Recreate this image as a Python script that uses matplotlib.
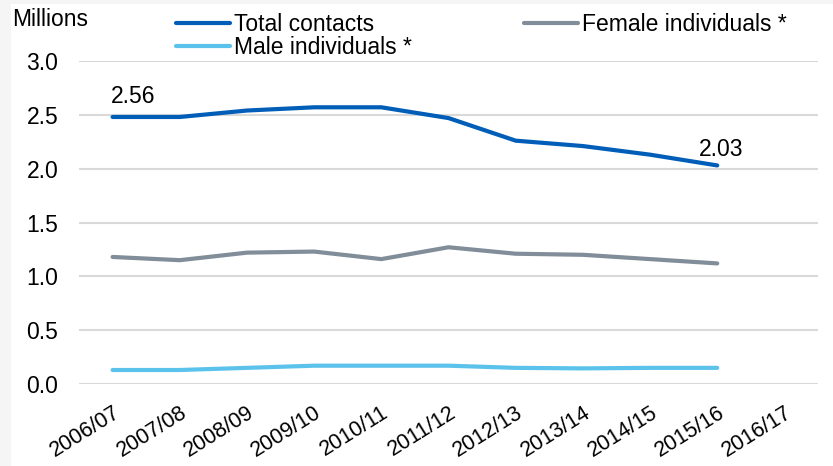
import matplotlib.pyplot as plt
import matplotlib.patches as mpatches

# categories and series (millions)
years = ['2006/07', '2007/08', '2008/09', '2009/10', '2010/11', '2011/12',
         '2012/13', '2013/14', '2014/15', '2015/16', '2016/17']
total_contacts = [2.48, 2.48, 2.54, 2.57, 2.57, 2.47, 2.26, 2.21, 2.13, 2.03]
female_individuals = [1.18, 1.15, 1.22, 1.23, 1.16, 1.27, 1.21, 1.20, 1.16, 1.12]
male_individuals = [0.13, 0.13, 0.15, 0.17, 0.17, 0.17, 0.15, 0.145, 0.15, 0.15]
total_labels = ['2.56', '2.03']
yticks = [0.0, 0.5, 1.0, 1.5, 2.0, 2.5, 3.0]

plt.rcParams['font.family'] = ['Liberation Sans', 'DejaVu Sans']
fs = 16.5

fig = plt.figure(figsize=(8.33, 4.66), dpi=100, facecolor='#f5f5f5')
# white card with a thin grey strip on top and left
fig.patches.append(mpatches.Rectangle((11 / 833, 0), 1, 1 - 4 / 466,
                                      transform=fig.transFigure,
                                      facecolor='white', edgecolor='none',
                                      zorder=-10))

ax = fig.add_axes([79 / 833, 1 - 384 / 466, (818 - 79) / 833, (384 - 61) / 466])
ax.set_facecolor('none')

x = list(range(len(years)))
n = len(total_contacts)
ax.plot(x[:n], total_contacts, color='#005eb8', lw=3, solid_capstyle='round',
        label='Total contacts', zorder=3)
ax.plot(x[:n], male_individuals, color='#5bc2eb', lw=3, solid_capstyle='round',
        label='Male individuals *', zorder=3)
ax.plot(x[:n], female_individuals, color='#818d99', lw=3, solid_capstyle='round',
        label='Female individuals *', zorder=3)

# data labels on first and last point of total contacts
ax.annotate(total_labels[0], (x[0], total_contacts[0]), xytext=(15, 14.5),
            textcoords='offset points', ha='center', va='center', fontsize=fs)
ax.annotate(total_labels[1], (x[n - 1], total_contacts[n - 1]), xytext=(3, 11.5),
            textcoords='offset points', ha='center', va='center', fontsize=fs)

ax.set_xlim(-0.5, len(years) - 0.5)
ax.set_ylim(0, 3.0)
ax.set_yticks(yticks)
ax.set_yticklabels([f'{v:.1f}' for v in yticks], fontsize=fs)
ax.set_xticks(x)
ax.set_xticklabels(years, fontsize=15.5, rotation=32, ha='right',
                   rotation_mode='anchor')
ax.tick_params(axis='both', length=0)
ax.tick_params(axis='y', pad=15)
ax.tick_params(axis='x', pad=13)
ax.grid(axis='y', color='#d9d9d9', lw=1.5)
ax.set_axisbelow(True)
for s in ax.spines.values():
    s.set_visible(False)

fig.text(12 / 833, 1 - 20 / 466, 'Millions', fontsize=fs, ha='left', va='center')

ax.legend(ncol=2, loc='upper left', bbox_to_anchor=(176 / 833, 1 - 13 / 466),
          bbox_transform=fig.transFigure, frameon=False, fontsize=fs,
          handlelength=2.36, handletextpad=0.17, columnspacing=4.9,
          labelspacing=0.0, borderpad=0, borderaxespad=0)

fig.savefig('out.png', dpi=100, facecolor=fig.get_facecolor())
